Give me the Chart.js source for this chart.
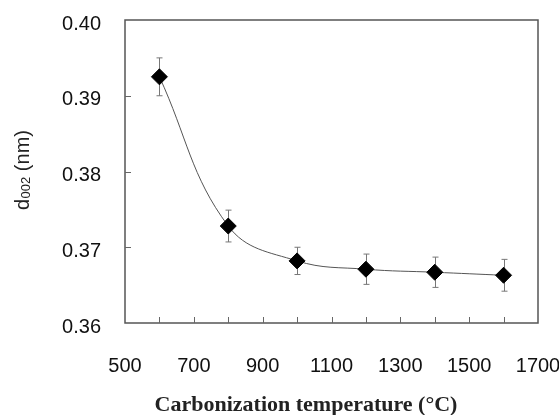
<!DOCTYPE html>
<html><head><meta charset="utf-8">
<script src="https://cdn.jsdelivr.net/npm/chart.js@4"></script>
<style>html,body{margin:0;padding:0;background:#fff}#wrap{width:559px;height:415px;position:relative}</style>
</head><body><div id="wrap"><canvas id="c"></canvas></div>
<script>
const temperatures = [600, 800, 1000, 1200, 1400, 1600];
const d002 = [0.3925, 0.3728, 0.3682, 0.3671, 0.3667, 0.3663];
const errors = [0.0025, 0.0021, 0.0018, 0.0020, 0.0020, 0.0021];
const xTickLabels = [500, 700, 900, 1100, 1300, 1500, 1700];
const yTickLabels = [0.36, 0.37, 0.38, 0.39, 0.40];
const xTitle = 'Carbonization temperature (\u00B0C)';
const yTitleMain = 'd', yTitleSub = '002', yTitleRest = ' (nm)';

const points = temperatures.map((t, i) => ({x: t, y: d002[i]}));

function noPad(s) { s.paddingTop = 0; s.paddingBottom = 0; s.paddingLeft = 0; s.paddingRight = 0; }

const framePlugin = {
  id: 'frame',
  beforeDatasetsDraw(chart) {
    const ctx = chart.ctx, xs = chart.scales.x, ys = chart.scales.y;
    ctx.save();
    ctx.strokeStyle = '#777';
    ctx.lineWidth = 1;
    temperatures.forEach((t, i) => {
      const px = Math.round(xs.getPixelForValue(t)) + 0.5;
      const top = ys.getPixelForValue(d002[i] + errors[i]);
      const bot = ys.getPixelForValue(d002[i] - errors[i]);
      ctx.beginPath();
      ctx.moveTo(px, top); ctx.lineTo(px, bot);
      ctx.moveTo(px - 3, top); ctx.lineTo(px + 3, top);
      ctx.moveTo(px - 3, bot); ctx.lineTo(px + 3, bot);
      ctx.stroke();
    });
    ctx.restore();
  },
  afterDraw(chart) {
    const ctx = chart.ctx, a = chart.chartArea, xs = chart.scales.x, ys = chart.scales.y;
    ctx.save();
    ctx.strokeStyle = '#555';
    ctx.lineWidth = 1.5;
    ctx.strokeRect(a.left, a.top, a.right - a.left, a.bottom - a.top);
    ctx.lineWidth = 1;
    ctx.strokeStyle = '#666';
    ctx.beginPath();
    xs.ticks.forEach(tk => {
      if (tk.value <= xs.min || tk.value >= xs.max) return;
      const px = Math.round(xs.getPixelForValue(tk.value)) + 0.5;
      ctx.moveTo(px, a.bottom); ctx.lineTo(px, a.bottom - 6);
    });
    ys.ticks.forEach(tk => {
      if (tk.value <= ys.min + 1e-9 || tk.value >= ys.max - 1e-9) return;
      const py = Math.round(ys.getPixelForValue(tk.value)) + 0.5;
      ctx.moveTo(a.left, py); ctx.lineTo(a.left + 6, py);
    });
    ctx.stroke();
    // x title
    ctx.fillStyle = '#222';
    ctx.font = 'bold 22px "Liberation Serif", "Times New Roman", serif';
    ctx.textAlign = 'center';
    ctx.textBaseline = 'alphabetic';
    ctx.fillText(xTitle, 306, 411);
    // y title
    ctx.translate(28.5, 210);
    ctx.rotate(-Math.PI / 2);
    ctx.textAlign = 'left';
    ctx.font = '20px "Liberation Sans", Arial, sans-serif';
    ctx.fillText(yTitleMain, 0, 0);
    let w = ctx.measureText(yTitleMain).width;
    ctx.font = '13px "Liberation Sans", Arial, sans-serif';
    ctx.fillText(yTitleSub, w + 0.5, 1.5);
    w += ctx.measureText(yTitleSub).width + 0.5;
    ctx.font = '20px "Liberation Sans", Arial, sans-serif';
    ctx.fillText(yTitleRest, w, 0);
    ctx.restore();
  }
};

new Chart(document.getElementById('c'), {
  type: 'scatter',
  data: {
    datasets: [{
      data: points,
      showLine: true,
      tension: 0.4,
      borderColor: '#555',
      borderWidth: 1,
      pointStyle: 'rectRot',
      pointRadius: 8,
      pointHoverRadius: 8,
      pointBackgroundColor: '#000',
      pointBorderColor: '#000',
      pointBorderWidth: 1
    }]
  },
  options: {
    responsive: true,
    maintainAspectRatio: false,
    animation: false,
    events: [],
    layout: {padding: {top: 20, right: 21, left: 0, bottom: 0}},
    plugins: {legend: {display: false}, tooltip: {enabled: false}},
    scales: {
      x: {
        type: 'linear',
        min: 500, max: 1700,
        grid: {display: false},
        border: {display: false},
        afterFit(s) { s.height = 92; noPad(s); },
        ticks: {
          stepSize: 100,
          autoSkip: false,
          maxRotation: 0,
          padding: 23,
          color: '#111',
          font: {family: '"Liberation Sans", Arial, sans-serif', size: 20},
          callback: v => xTickLabels.includes(v) ? String(v) : ''
        }
      },
      y: {
        type: 'linear',
        min: 0.36, max: 0.40,
        grid: {display: false},
        border: {display: false},
        afterFit(s) { s.width = 125; noPad(s); },
        ticks: {
          stepSize: 0.01,
          padding: 16,
          labelOffset: 4,
          color: '#111',
          font: {family: '"Liberation Sans", Arial, sans-serif', size: 20},
          callback: v => {
            const m = yTickLabels.find(t => Math.abs(t - v) < 1e-6);
            return m !== undefined ? m.toFixed(2) : '';
          }
        }
      }
    }
  },
  plugins: [framePlugin]
});
</script>
</body></html>
